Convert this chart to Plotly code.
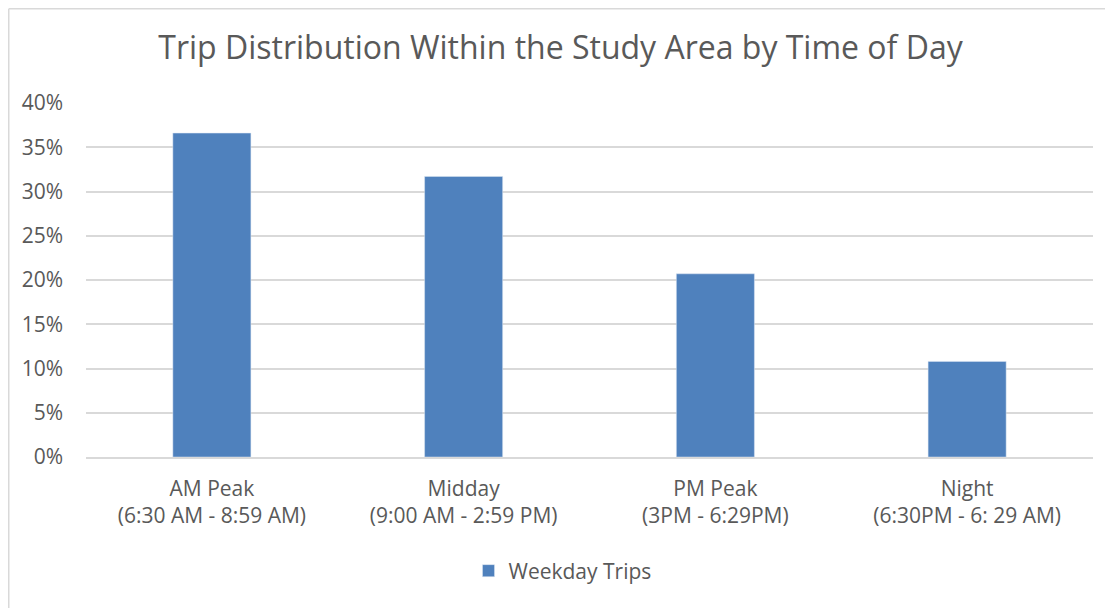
import plotly.graph_objects as go

categories = ["AM Peak<br>(6:30 AM - 8:59 AM)", "Midday<br>(9:00 AM - 2:59 PM)",
              "PM Peak<br>(3PM - 6:29PM)", "Night<br>(6:30PM - 6: 29 AM)"]
weekday_trips = [0.366, 0.317, 0.207, 0.108]
y_ticks = [0, 0.05, 0.10, 0.15, 0.20, 0.25, 0.30, 0.35, 0.40]

# page body has an 8px margin, so figure coordinates = page coordinates - 8
OFF = 8
W, H = 1113 - OFF, 608 - OFF
L, T = 86 - OFF, 103 - OFF
R = W - (1093 - OFF)
B = H - (457 - OFF)
pw, ph = W - L - R, H - T - B

fig = go.Figure()
fig.add_trace(go.Bar(x=categories, y=weekday_trips, name="Weekday Trips",
                     marker=dict(color="#4F81BD", line=dict(color="#DCE6F2", width=0.5))))

fig.update_layout(
    width=W, height=H,
    margin=dict(l=L, r=R, t=T, b=B, autoexpand=False),
    paper_bgcolor="white", plot_bgcolor="white",
    font=dict(family="Open Sans", color="#595959", size=21),
    title=dict(text="Trip Distribution Within the Study Area by Time of Day",
               x=0.5, xanchor="center", y=1 - (48 - OFF) / H, yanchor="middle",
               font=dict(family="Open Sans", size=32, color="#595959")),
    bargap=0.69,
    showlegend=True,
    legend=dict(orientation="h", x=0.5 - 27 / pw, xanchor="center", y=-(571 - 457) / ph,
                yanchor="middle", font=dict(size=21), itemwidth=30),
    xaxis=dict(showgrid=False, ticks="", showline=True, linecolor="#D9D9D9", linewidth=1.5,
               tickfont=dict(size=21), ticklabelstandoff=12),
    yaxis=dict(range=[0, 0.4], tickvals=y_ticks, tickformat=".0%", showgrid=True,
               gridcolor="#D9D9D9", gridwidth=1.5, zeroline=False, showline=False, ticks="",
               tickfont=dict(size=21), ticklabelstandoff=22),
)

# chart-area border (left and top edges visible in reference)
x_left = (0.75 - L) / pw
y_top = (H - B - 0.75) / ph
fig.add_shape(type="line", xref="paper", yref="paper", x0=x_left, x1=x_left, y0=y_top, y1=-2,
              line=dict(color="#D9D9D9", width=1.5))
fig.add_shape(type="line", xref="paper", yref="paper", x0=x_left, x1=2, y0=y_top, y1=y_top,
              line=dict(color="#D9D9D9", width=1.5))

fig.write_html("out.html")
